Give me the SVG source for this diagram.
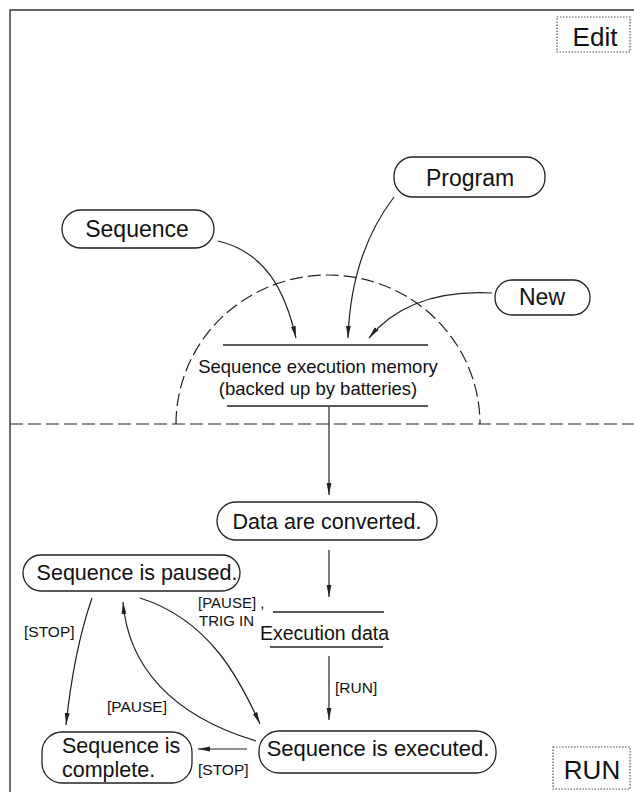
<svg xmlns="http://www.w3.org/2000/svg" width="634" height="792" viewBox="0 0 634 792">
<style>
  text { font-family: "Liberation Sans", Arial, sans-serif; fill: #111; }
  .node { fill: #fff; stroke: #222; stroke-width: 1.3; }
  .big { font-size: 23px; text-anchor: middle; }
  .st { font-size: 21.5px; text-anchor: middle; }
  .mem { font-size: 18.5px; text-anchor: middle; }
  .lbl { font-size: 15.5px; }
  .bar { stroke: #222; stroke-width: 1.3; }
  .tag { fill: #fff; stroke: #555; stroke-width: 1.2; stroke-dasharray: 1.5 1.5; }
  .tagt { font-size: 26px; text-anchor: middle; }
  .dash { fill: none; stroke: #222; stroke-width: 1.2; stroke-dasharray: 13 5; }
  .conn { fill: none; stroke: #222; stroke-width: 1.2; marker-end: url(#ah); }
</style>
<defs>
  <marker id="ah" viewBox="0 0 12 6" refX="12" refY="3" markerWidth="12" markerHeight="6" markerUnits="userSpaceOnUse" orient="auto">
    <path d="M0,0.6 L12,3 L0,5.4 Z" fill="#222"/>
  </marker>
</defs>
<rect width="634" height="792" fill="#fff"/>
<g id="frame">
  <path d="M10,792 L10,10 L634,10" fill="none" stroke="#333" stroke-width="1.4"/>
  <path class="dash" d="M10,424 L634,424"/>
  <path class="dash" d="M176,424 A152,149 0 0 1 480,424"/>
</g>
<g id="edit-tag">
  <rect class="tag" x="557" y="17" width="73" height="35"/>
  <text class="tagt" x="595" y="46">Edit</text>
</g>
<g id="run-tag">
  <rect class="tag" x="553" y="747" width="77" height="42"/>
  <text class="tagt" x="592" y="779">RUN</text>
</g>
<g id="program">
  <rect class="node" x="394" y="157" width="151" height="40" rx="19"/>
  <text class="big" x="470" y="186">Program</text>
</g>
<g id="sequence">
  <rect class="node" x="62" y="210" width="152" height="38" rx="19"/>
  <text class="big" x="137" y="237">Sequence</text>
</g>
<g id="new">
  <rect class="node" x="495" y="280" width="95" height="35" rx="17"/>
  <text class="big" x="542" y="305">New</text>
</g>
<g id="memory">
  <line class="bar" x1="223" y1="345" x2="428" y2="345"/>
  <text class="mem" x="318" y="373">Sequence execution memory</text>
  <text class="mem" x="318" y="395">(backed up by batteries)</text>
  <line class="bar" x1="227" y1="406" x2="428" y2="406"/>
</g>
<g id="data-converted">
  <rect class="node" x="217" y="502" width="220" height="38" rx="19"/>
  <text class="st" x="327" y="529">Data are converted.</text>
</g>
<g id="execution-data">
  <line class="bar" x1="273" y1="612" x2="384" y2="612"/>
  <text x="260" y="640" style="font-size:19.5px">Execution data</text>
  <line class="bar" x1="270" y1="647" x2="383" y2="647"/>
</g>
<g id="paused">
  <rect class="node" x="23" y="555" width="217" height="36" rx="18"/>
  <text class="st" x="137" y="580">Sequence is paused.</text>
</g>
<g id="executed">
  <rect class="node" x="259" y="731" width="237" height="42" rx="20"/>
  <text class="st" x="378" y="756" style="font-size:22px">Sequence is executed.</text>
</g>
<g id="complete">
  <rect class="node" x="42" y="732" width="150" height="51" rx="20"/>
  <text x="62" y="753" style="font-size:21.5px">Sequence is</text>
  <text x="62" y="777" style="font-size:21.5px">complete.</text>
</g>
<g id="connectors">
  <path class="conn" d="M218,241 C265,252 285,290 296,338"/>
  <path class="conn" d="M394,197 C365,235 350,280 348,338"/>
  <path class="conn" d="M492,293 C430,290 392,310 369,338"/>
  <path class="conn" d="M329,407 L329,495"/>
  <path class="conn" d="M329,550 L329,597"/>
  <path class="conn" d="M329,656 L329,720"/>
  <path class="conn" d="M247,749 L198,749"/>
  <path class="conn" d="M92,598 Q74,650 66,725"/>
  <path class="conn" d="M256,741 C170,715 128,665 123,602"/>
  <path class="conn" d="M140,598 C210,620 240,680 260,724"/>
  <text class="lbl" x="335" y="693">[RUN]</text>
  <text class="lbl" x="24" y="637">[STOP]</text>
  <text class="lbl" x="107" y="712">[PAUSE]</text>
  <text class="lbl" x="198" y="775">[STOP]</text>
  <text class="lbl" x="198" y="608" style="font-size:15px">[PAUSE] ,</text>
  <text class="lbl" x="199" y="626" style="font-size:15px">TRIG IN</text>
</g>
</svg>
